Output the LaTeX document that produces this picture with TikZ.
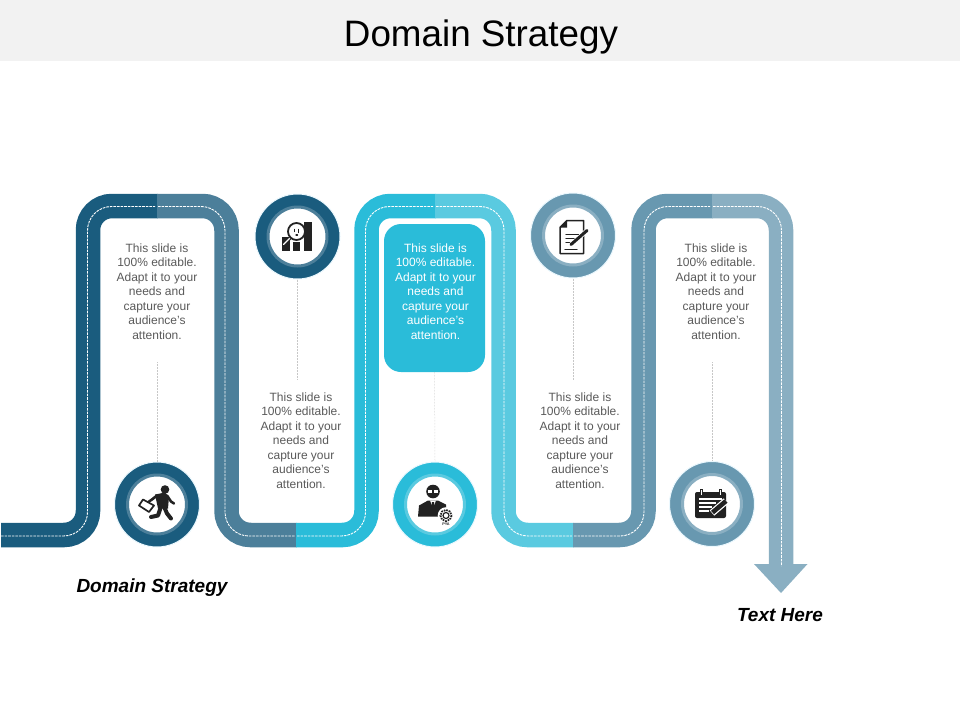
\documentclass[tikz,border=0pt]{standalone}
\usepackage{fontspec}
\setmainfont{Liberation Sans}
\definecolor{trackone}{HTML}{1A5C7E}
\definecolor{tracktwo}{HTML}{4C7F9A}
\definecolor{trackthree}{HTML}{2ABCD9}
\definecolor{trackfour}{HTML}{5ACAE0}
\definecolor{trackfive}{HTML}{6898B0}
\definecolor{tracksix}{HTML}{8AAFC2}
\definecolor{barcolor}{HTML}{F2F2F2}
\definecolor{bodycolor}{HTML}{595959}
\definecolor{iconcolor}{HTML}{222222}
\newcommand{\slidetext}{This slide is\\100\% editable.\\Adapt it to your\\needs and\\capture your\\audience's\\attention.}
\tikzset{
  track/.style={line width=24.5pt, rounded corners=24pt},
  roadline/.style={white, line width=0.9pt, dash pattern=on 2.6pt off 1pt, rounded corners=24pt},
  guide/.style={draw=black!22, line width=0.5pt, densely dotted},
  blurb/.style={align=center, text=bodycolor, inner sep=0pt, font=\fontsize{12}{14.45}\selectfont},
  tag/.style={font=\fontsize{19}{21}\selectfont\bfseries\itshape, inner sep=0pt},
  disc/.style={circle, minimum size=85pt, inner sep=0pt, draw=cyan!8, line width=1pt},
  core/.style={circle, minimum size=59pt, inner sep=0pt, fill=white, line width=3pt},
  ink/.style={fill=iconcolor, draw=none},
  inkline/.style={draw=iconcolor, line cap=round, line join=round}
}

\begin{document}
\begin{tikzpicture}[x=1pt, y=-1pt]
    \useasboundingbox (0,0) rectangle (960,720);

    % Title bar
    \fill[barcolor] (0,0) rectangle (960,61);
    \node[font=\fontsize{36.8}{40}\selectfont, text=black, inner sep=0pt] (title) at (481,36.5) {Domain Strategy};

    % Road
    \draw[track, trackone] (1,535) -- (88,535) -- (88,206) -- (157.5,206);
    \draw[track, tracktwo] (157,206) -- (226.5,206) -- (226.5,535) -- (296.5,535);
    \draw[track, trackthree] (296,535) -- (366.5,535) -- (366.5,206) -- (435.5,206);
    \draw[track, trackfour] (435,206) -- (503.5,206) -- (503.5,535) -- (573.5,535);
    \draw[track, trackfive] (573,535) -- (643.5,535) -- (643.5,206) -- (712.5,206);
    \draw[track, tracksix] (712,206) -- (781,206) -- (781,565);
    \fill[tracksix] (754,564) -- (807.5,564) -- (781,593) -- cycle;

    % Road markings
    \draw[roadline] (1,536) -- (87.5,536) -- (87.5,206.5) -- (155,206.5);
    \draw[roadline] (158,206.5) -- (225,206.5) -- (225,536) -- (295,536);
    \draw[roadline] (297,536) -- (365.5,536) -- (365.5,206.5) -- (433,206.5);
    \draw[roadline] (436,206.5) -- (504,206.5) -- (504,536) -- (572,536);
    \draw[roadline] (574,536) -- (644,536) -- (644,206.5) -- (710,206.5);
    \draw[roadline] (713,206.5) -- (781.5,206.5) -- (781.5,566);

    % Texts
    \node[blurb] (textA) at (157,291.5) {\slidetext};
    \node[blurb] (textB) at (301,440.5) {\slidetext};
    \node[fill=trackthree, rounded corners=17pt, minimum width=101pt, minimum height=148pt, inner sep=0pt] (boxC) at (434.5,298) {};
    \node[blurb, text=white] (textC) at (435.5,291.5) {\slidetext};
    \node[blurb] (textD) at (580,440.5) {\slidetext};
    \node[blurb] (textE) at (716,291.5) {\slidetext};

    % Discs
    \node[disc, fill=trackone] (discA) at (157,504.5) {};
    \node[core, draw=tracktwo] (coreA) at (157,504.5) {};
    \node[disc, fill=trackone] (discB) at (297.5,236.5) {};
    \node[core, draw=tracktwo] (coreB) at (297.5,236.5) {};
    \node[disc, fill=trackthree] (discC) at (435,504.5) {};
    \node[core, draw=trackfour] (coreC) at (435,504.5) {};
    \node[disc, fill=trackfive] (discD) at (573,235.5) {};
    \node[core, draw=tracksix] (coreD) at (573,235.5) {};
    \node[disc, fill=trackfive] (discE) at (712,504) {};
    \node[core, draw=tracksix] (coreE) at (712,504) {};

    % Guides
    \coordinate (guideA) at (157,362);
    \coordinate (guideB) at (297.5,380);
    \coordinate (guideD) at (573,380);
    \coordinate (guideE) at (712,362);
    \draw[guide] (guideA) -- (discA.north);
    \draw[guide] (discB.south) -- (guideB);
    \draw[guide] (boxC.south) -- (discC.north);
    \draw[guide] (discD.south) -- (guideD);
    \draw[guide] (guideE) -- (discE.north);

    % Runner
    \begin{scope}[shift={(157,504.5)}]
        \fill[ink] (8,-15) circle (4.3);
        \fill[ink] (-2,-10) -- (8,-12) -- (12,-8) -- (11,4) -- (1,4) -- cycle;
        \draw[inkline, line width=2.6pt] (10,-9) -- (14,-3) -- (17,-1);
        \draw[inkline, line width=2.6pt] (0,-9) -- (-5,-5) -- (-8,-3);
        \draw[inkline, line width=4pt] (7,2) -- (10,9) -- (14,14);
        \draw[inkline, line width=4pt] (4,2) -- (1,11) -- (-6,12.5);
        \draw[inkline, line width=1.7pt] (-18,1) -- (-14,-5) -- (-3,1) -- (-8,7.5) -- cycle;
    \end{scope}

    % Chart
    \begin{scope}[shift={(297.5,236.5)}]
        \fill[ink] (-16,0) rectangle (-7.5,14);
        \fill[ink] (-5,5) rectangle (2.5,14);
        \fill[ink] (6.5,-15) rectangle (14,14);
        \draw[inkline, line width=3.2pt] (-7,1) -- (-14,8);
        \draw[white, line width=1.4pt, line cap=round] (-7,1) -- (-14,8);
        \draw[iconcolor, fill=white, line width=1.8pt] (-1,-5) circle (8.5);
        \draw[inkline, line width=1.2pt] (-3,-7) -- (-3,-5) (1,-7) -- (1,-4) (-1.5,-1.5) -- (0,-1.5);
    \end{scope}

    % Manager
    \begin{scope}[shift={(435,504.5)}]
        \fill[ink] (-2,-13) circle (6.8);
        \fill[white] (-7,-14.5) rectangle (-3,-11.5);
        \fill[white] (-1,-14.5) rectangle (3,-11.5);
        \fill[ink] (-17,12) -- (-16,1) -- (-7,-4) -- (3,-4) -- (11,0) -- (12,12) -- cycle;
        \fill[white] (-5,-4) -- (1,-4) -- (-2,3) -- cycle;
        \fill[ink] (-3,-2.5) -- (-1,-2.5) -- (-0.7,7) -- (-2,11) -- (-3.3,7) -- cycle;
        \fill[white] (11,11) circle (8.3);
        \draw[iconcolor, dash pattern=on 1.6pt off 1pt, line width=1.8pt] (11,11) circle (5.6);
        \draw[iconcolor, line width=1.2pt] (11,11) circle (3);
        \node[font=\fontsize{3.8}{4}\selectfont\bfseries, text=iconcolor, inner sep=0pt] (gearmark) at (11,20) {PYA};
    \end{scope}

    % Document
    \begin{scope}[shift={(573,235.5)}]
        \draw[inkline, line width=1.5pt] (-13,-8) -- (-6,-15) -- (10.5,-15) -- (10.5,18) -- (-13,18) -- cycle;
        \fill[ink] (-13,-8) -- (-6,-15) -- (-6,-8) -- cycle;
        \draw[inkline, line width=1.4pt] (-7,-1) -- (6,-1) (-7,3) -- (3,3) (-7,7) -- (0,7) (-8,14) -- (4,14);
        \draw[white, line width=4.4pt] (-3,10) -- (14,-5);
        \draw[inkline, line width=3pt] (-2,9) -- (14,-5);
    \end{scope}

    % Calendar
    \begin{scope}[shift={(712,504)}]
        \fill[ink, rounded corners=2pt] (-17,-12) rectangle (14,14);
        \draw[white, line width=1.1pt] (-11,-15) -- (-11,-9) (8,-15) -- (8,-9);
        \draw[iconcolor, line width=0.6pt] (-12.2,-15) rectangle (-9.8,-9) (6.8,-15) rectangle (9.2,-9);
        \draw[white, line width=1.3pt] (-13,-5) -- (10,-5) (-13,-1) -- (4,-1) (-13,3) -- (0,3) (-13,7) -- (-3,7);
        \draw[white, line width=7pt] (0,9) -- (14,-3);
        \draw[iconcolor, line width=4.6pt] (0.5,8.5) -- (14,-3);
    \end{scope}

    % Captions
    \node[tag] (captionA) at (152,587.5) {Domain Strategy};
    \node[tag] (captionB) at (780,615) {Text Here};
\end{tikzpicture}
\end{document}
